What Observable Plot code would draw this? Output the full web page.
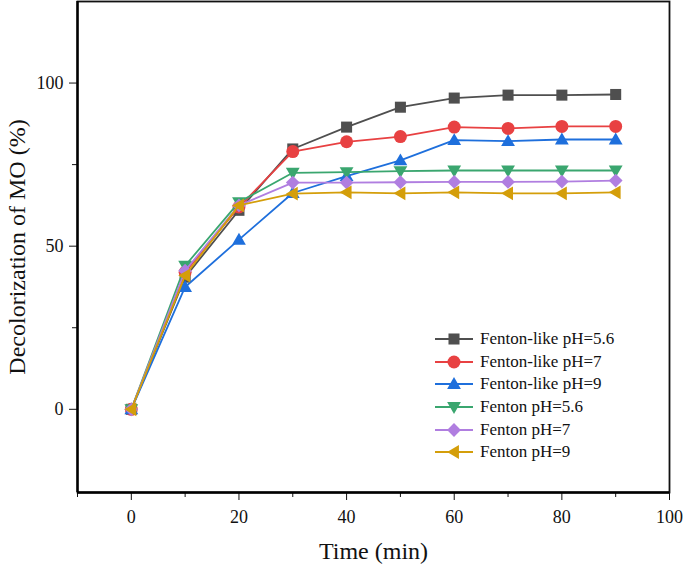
<!DOCTYPE html>
<html>
<head>
<meta charset="utf-8">
<script src="https://cdn.jsdelivr.net/npm/d3@7"></script>
<script src="https://cdn.jsdelivr.net/npm/@observablehq/plot@0.6"></script>
<style>
  html, body { margin: 0; padding: 0; background: #fff; }
  #chart { position: relative; width: 685px; height: 571px; font-family: "Liberation Serif", serif; }
  #chart svg text { font-family: "Liberation Serif", serif; }
  #legend { position: absolute; left: 434px; top: 328px; font-size: 17px; color: #111; font-family: "Liberation Serif", serif; }
  .lrow { display: flex; align-items: center; height: 22.6px; }
  .lrow svg { margin-right: 6px; }
</style>
</head>
<body>
<div id="chart"></div>
<script>
// ---- data ----
const times = [0, 10, 20, 30, 40, 50, 60, 70, 80, 90];
const seriesNames = ["Fenton-like pH=5.6", "Fenton-like pH=7", "Fenton-like pH=9", "Fenton pH=5.6", "Fenton pH=7", "Fenton pH=9"];
const fentonLike56 = [0, 40.5, 61.0, 79.8, 86.5, 92.6, 95.4, 96.3, 96.3, 96.5];
const fentonLike7  = [0, 42.0, 62.0, 79.0, 82.0, 83.6, 86.5, 86.1, 86.7, 86.7];
const fentonLike9  = [0, 37.5, 52.0, 66.3, 71.5, 76.3, 82.5, 82.2, 82.7, 82.7];
const fenton56     = [0, 44.0, 63.5, 72.5, 72.7, 73.0, 73.2, 73.2, 73.2, 73.2];
const fenton7      = [0, 42.5, 62.5, 69.5, 69.5, 69.6, 69.7, 69.7, 69.8, 70.1];
const fenton9      = [0, 41.0, 62.5, 66.1, 66.5, 66.2, 66.5, 66.2, 66.2, 66.5];
const xMajorTicks = [0, 20, 40, 60, 80, 100];
const xMinorTicks = [-10, 10, 30, 50, 70, 90];
const yMajorTicks = [0, 50, 100];
const yMinorTicks = [25, 75];

const colors = ["#4f4f4f", "#e84142", "#1e6fdc", "#3aa66f", "#b07ee0", "#d49e0a"];
const values = [fentonLike56, fentonLike7, fentonLike9, fenton56, fenton7, fenton9];

// custom symbols (size = PI r^2)
function rad(size) { return Math.sqrt(size / Math.PI); }
const symSquare = { draw(c, s) { const r = rad(s) * 0.92; c.moveTo(-r, -r); c.lineTo(r, -r); c.lineTo(r, r); c.lineTo(-r, r); c.closePath(); } };
const symCircle = { draw(c, s) { const r = rad(s) * 1.08; c.moveTo(r, 0); c.arc(0, 0, r, 0, 2 * Math.PI); } };
const symUp = { draw(c, s) { const r = rad(s) * 1.15; c.moveTo(0, -r); c.lineTo(r, r * 0.72); c.lineTo(-r, r * 0.72); c.closePath(); } };
const symDown = { draw(c, s) { const r = rad(s) * 1.15; c.moveTo(0, r); c.lineTo(r, -r * 0.72); c.lineTo(-r, -r * 0.72); c.closePath(); } };
const symDiamond = { draw(c, s) { const r = rad(s) * 1.15; c.moveTo(0, -r); c.lineTo(r, 0); c.lineTo(0, r); c.lineTo(-r, 0); c.closePath(); } };
const symLeft = { draw(c, s) { const r = rad(s) * 1.15; c.moveTo(-r, 0); c.lineTo(r * 0.72, -r); c.lineTo(r * 0.72, r); c.closePath(); } };
const symbols = [symSquare, symCircle, symUp, symDown, symDiamond, symLeft];

const R = 6;
const rows = seriesNames.map((name, i) => times.map((t, j) => ({ series: name, t, v: values[i][j] })));

const marks = [];
rows.forEach((data, i) => {
  marks.push(Plot.line(data, { x: "t", y: "v", stroke: colors[i], strokeWidth: 1.8 }));
  marks.push(Plot.dot(data, { x: "t", y: "v", fill: colors[i], stroke: "none", symbol: symbols[i], r: R }));
});

const chart = Plot.plot({
  width: 685,
  height: 571,
  marginLeft: 77,
  marginRight: 16,
  marginTop: 1,
  marginBottom: 79,
  style: { fontFamily: "'Liberation Serif', serif", fontSize: "18px", color: "#111", background: "#fff" },
  x: { domain: [-10, 100] },
  y: { domain: [-25.5, 125] },
  marks: [
    Plot.frame({ stroke: "#111", strokeWidth: 1.8 }),
    ...marks,
    Plot.axisX({ ticks: xMajorTicks, tickSize: 8, tickPadding: 10, tickWidth: 1.8, label: "Time (min)", labelAnchor: "center", labelArrow: "none", labelOffset: 66 }),
    Plot.axisX({ ticks: xMinorTicks, tickSize: 5, tickWidth: 1.8, text: null, label: null }),
    Plot.axisY({ ticks: yMajorTicks, tickSize: 8, tickPadding: 6, tickWidth: 1.8, label: "Decolorization of MO (%)", labelAnchor: "center", labelArrow: "none", labelOffset: 70 }),
    Plot.axisY({ ticks: yMinorTicks, tickSize: 5, tickWidth: 1.8, text: null, label: null }),
    Plot.ruleX([-10], { stroke: "#000", strokeWidth: 2.4 }),
    Plot.ruleY([-25.5], { stroke: "#000", strokeWidth: 2.4 })
  ]
});

d3.select(chart).selectAll('g[aria-label="x-axis label"] text, g[aria-label="y-axis label"] text')
  .attr("font-size", 24).attr("font-weight", "normal");

const host = document.getElementById("chart");
host.appendChild(chart);

// legend
const legend = document.createElement("div");
legend.id = "legend";
seriesNames.forEach((name, i) => {
  const row = document.createElement("div");
  row.className = "lrow";
  const svg = d3.create("svg").attr("width", 40).attr("height", 18);
  svg.append("line").attr("x1", 1).attr("x2", 39).attr("y1", 9).attr("y2", 9).attr("stroke", colors[i]).attr("stroke-width", 1.8);
  svg.append("path").attr("transform", "translate(20,9)").attr("fill", colors[i])
    .attr("d", d3.symbol(symbols[i], Math.PI * R * R)());
  row.appendChild(svg.node());
  const span = document.createElement("span");
  span.textContent = name;
  row.appendChild(span);
  legend.appendChild(row);
});
host.appendChild(legend);
</script>
</body>
</html>
